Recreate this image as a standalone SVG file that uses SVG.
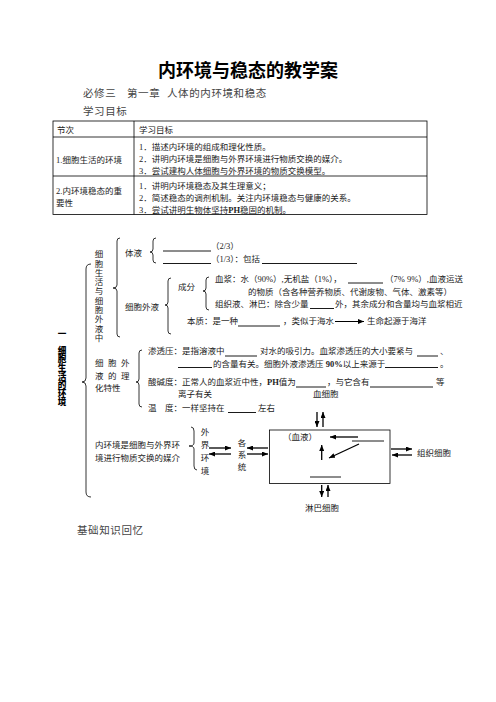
<svg xmlns="http://www.w3.org/2000/svg" width="496" height="702" viewBox="0 0 496 702">
<style>
.t{font-family:"Liberation Serif","Noto Sans CJK SC",serif;font-size:8.5px;fill:#222}
.v{font-family:"Noto Sans CJK SC",sans-serif;font-size:8.5px;fill:#222;writing-mode:vertical-rl}
.h{font-family:"Noto Sans CJK SC",sans-serif;font-weight:700;font-size:18px;fill:#000}
.g{font-family:"Noto Sans CJK SC",sans-serif;font-size:10.5px;fill:#444;letter-spacing:0.6px}
.vb{font-family:"Noto Sans CJK SC",sans-serif;font-weight:900;font-size:8.6px;fill:#000}
.ln{stroke:#000;stroke-width:0.8;fill:none}
.bl{stroke:#000;stroke-width:0.9}
.ar{stroke:#000;stroke-width:1.3;fill:none;marker-end:url(#ah)}
.ar2{stroke:#000;stroke-width:1;fill:none;marker-end:url(#ah)}
</style>
<defs>
<marker id="ah" markerUnits="userSpaceOnUse" markerWidth="6" markerHeight="5" refX="6" refY="2.5" orient="auto">
<path d="M0,0 L6,2.5 L0,5 z" fill="#000"/>
</marker>
</defs>
<rect width="496" height="702" fill="#fff"/>

<g id="header">
<text class="h" x="248" y="77" text-anchor="middle">内环境与稳态的教学案</text>
<text class="g" x="83" y="96.5">必修三</text>
<text class="g" x="127" y="96.5">第一章</text>
<text class="g" x="167" y="96.5">人体的内环境和稳态</text>
<text class="g" x="83" y="114.5">学习目标</text>
</g>

<g id="table">
<rect class="ln" x="53" y="121" width="374" height="93.5"/>
<line class="ln" x1="53" y1="137" x2="427" y2="137"/>
<line class="ln" x1="53" y1="176" x2="427" y2="176"/>
<line class="ln" x1="134" y1="121" x2="134" y2="214.5"/>
<text class="t" x="57" y="132.5">节次</text>
<text class="t" x="139" y="132.5">学习目标</text>
<text class="t" x="56" y="163">1.细胞生活的环境</text>
<text class="t" x="139" y="149.5">1．描述内环境的组成和理化性质。</text>
<text class="t" x="139" y="162">2．讲明内环境是细胞与外界环境进行物质交换的媒介。</text>
<text class="t" x="139" y="174">3．尝试建构人体细胞与外界环境的物质交换模型。</text>
<text class="t" x="56" y="193.5">2.内环境稳态的重</text>
<text class="t" x="56" y="206">要性</text>
<text class="t" x="139" y="189">1．讲明内环境稳态及其生理意义；</text>
<text class="t" x="139" y="201">2．简述稳态的调剂机制。关注内环境稳态与健康的关系。</text>
<text class="t" x="139" y="212.5">3．尝试讲明生物体坚持<tspan font-weight="bold">PH</tspan>稳固的机制。</text>
</g>

<g id="braces">
<path class="ln" d="M91,264 Q86,264 86,269 L86,378 Q86,382 82,382 Q86,382 86,386 L86,492 Q86,497 91,497"/>
<path class="ln" d="M120,238 Q117,238 117,241 L117,285 Q117,288 113,288 Q117,288 117,291 L117,334 Q117,337 120,337"/>
<path class="ln" d="M156,238 Q153,238 153,241 L153,249 Q153,252 150,252 Q153,252 153,255 L153,260 Q153,263 156,263"/>
<path class="ln" d="M171,278 Q168,278 168,281 L168,302 Q168,305 165,305 Q168,305 168,308 L168,331 Q168,334 171,334"/>
<path class="ln" d="M209,277 Q206,277 206,280 L206,288 Q206,291 203,291 Q206,291 206,294 L206,307 Q206,310 209,310"/>
<path class="ln" d="M142,350 Q139,350 139,353 L139,379 Q139,382 136,382 Q139,382 139,385 L139,404 Q139,407 142,407"/>
<path class="ln" d="M191,427 Q194,427 194,431 L194,443 Q194,446 189,446 Q194,446 194,449 L194,466 Q194,470 197,470"/>
</g>

<g id="title-vertical">
<text class="vb" x="62" y="337" text-anchor="middle">一</text>
<text class="vb" x="62" y="346.2" style="writing-mode:vertical-rl">细胞生活的环境</text>
</g>

<g id="node-env">
<text class="v" x="99" y="249.8" style="letter-spacing:0.8px">细胞生活与细胞外液中</text>
</g>

<g id="node-body-fluid">
<text class="t" x="125" y="256">体液</text>
<line class="bl" x1="163" y1="251" x2="211" y2="251"/>
<line class="bl" x1="163" y1="263.5" x2="211" y2="263.5"/>
<text class="t" x="211" y="248.5">（2/3）</text>
<text class="t" x="211" y="261.5">（1/3）：包括</text>
<line class="bl" x1="262" y1="263.5" x2="357" y2="263.5"/>
</g>

<g id="node-ecf">
<text class="t" x="125" y="310">细胞外液</text>
<text class="t" x="178" y="290">成分</text>
<text class="t" x="215" y="281.5">血浆：水（90%）,无机盐（1%），</text>
<line class="bl" x1="348" y1="283" x2="383" y2="283"/>
<text class="t" x="385" y="281.5">（7% 9%）,血液运送</text>
<text class="t" x="248" y="295">的物质（含各种营养物质、代谢废物、气体、激素等）</text>
<text class="t" x="215" y="306.5">组织液、淋巴：除含少量</text>
<line class="bl" x1="310" y1="308.5" x2="334" y2="308.5"/>
<text class="t" x="335" y="306.5">外，其余成分和含量均与血浆相近</text>
<text class="t" x="187" y="324">本质：是一种</text>
<line class="bl" x1="238" y1="326" x2="280" y2="326"/>
<text class="t" x="283" y="324">，类似于海水</text>
<text class="t" x="367" y="324">生命起源于海洋</text>
</g>

<g id="node-physchem">
<text class="t" x="95" y="366">细</text><text class="t" x="108" y="366">胞</text><text class="t" x="121" y="366">外</text>
<text class="t" x="95" y="378.5">液</text><text class="t" x="108" y="378.5">的</text><text class="t" x="121" y="378.5">理</text>
<text class="t" x="95" y="391">化特性</text>
<text class="t" x="148" y="354">渗透压：是指溶液中</text>
<line class="bl" x1="225" y1="356" x2="257" y2="356"/>
<text class="t" x="260" y="354">对水的吸引力。血浆渗透压的大小要紧与</text>
<line class="bl" x1="417" y1="356" x2="438" y2="356"/>
<text class="t" x="440" y="354">、</text>
<line class="bl" x1="178" y1="367.5" x2="212" y2="367.5"/>
<text class="t" x="213" y="366.5">的含量有关。细胞外液渗透压 <tspan font-weight="bold">90%</tspan>以上来源于</text>
<line class="bl" x1="385" y1="367.5" x2="438" y2="367.5"/>
<text class="t" x="440" y="366.5">。</text>
<text class="t" x="148" y="385">酸碱度：正常人的血浆近中性，<tspan font-weight="bold">PH</tspan>值为</text>
<line class="bl" x1="296" y1="387" x2="326" y2="387"/>
<text class="t" x="327" y="385">，与它含有</text>
<line class="bl" x1="370" y1="387" x2="433" y2="387"/>
<text class="t" x="436" y="385">等</text>
<text class="t" x="178" y="397">离子有关</text>
<text class="t" x="148" y="411">温</text>
<text class="t" x="165" y="411">度：一样坚持在</text>
<line class="bl" x1="228" y1="412.5" x2="256" y2="412.5"/>
<text class="t" x="258" y="411">左右</text>
</g>

<g id="node-exchange">
<text class="t" x="95" y="448">内环境是细胞与外界环</text>
<text class="t" x="95" y="460.5">境进行物质交换的媒介</text>
</g>

<g id="node-outside">
<text class="v" x="205" y="427.8" style="letter-spacing:4.5px">外界环境</text>
</g>
<g id="node-systems">
<text class="v" x="242" y="438.8" style="letter-spacing:3.5px">各系统</text>
</g>
<g id="node-box">
<rect class="ln" x="269.5" y="430" width="120.5" height="53.5"/>
<text class="t" x="283" y="440">（血液）</text>
<line class="bl" x1="352" y1="441" x2="384" y2="441"/>
<line class="bl" x1="310" y1="477" x2="341" y2="477"/>
</g>
<g id="node-blood-cell"><text class="t" x="313" y="397">血细胞</text></g>
<g id="node-tissue-cell"><text class="t" x="417" y="456">组织细胞</text></g>
<g id="node-lymph-cell"><text class="t" x="305" y="511">淋巴细胞</text></g>

<g id="connectors">
<line class="ar2" x1="335" y1="321.5" x2="364" y2="321.5"/>
<line class="ar" x1="317" y1="412" x2="317" y2="427"/>
<line class="ar" x1="323" y1="427" x2="323" y2="412"/>
<line class="ar" x1="209" y1="448" x2="231" y2="448"/>
<line class="ar" x1="231" y1="454" x2="209" y2="454"/>
<line class="ar" x1="268" y1="448" x2="247" y2="448"/>
<line class="ar" x1="247" y1="454" x2="268" y2="454"/>
<line class="ar" x1="391" y1="449" x2="412" y2="449"/>
<line class="ar" x1="412" y1="455" x2="392" y2="455"/>
<line class="ar" x1="358" y1="437" x2="330" y2="437"/>
<line class="ar" x1="321.7" y1="460" x2="321.7" y2="445"/>
<line class="ar" x1="359" y1="444" x2="329" y2="458"/>
<line class="ar" x1="321.7" y1="485" x2="321.7" y2="497"/>
<line class="ar" x1="328" y1="497" x2="328" y2="485"/>
</g>

<g id="footer">
<text class="g" x="77" y="533.5">基础知识回忆</text>
</g>
</svg>
